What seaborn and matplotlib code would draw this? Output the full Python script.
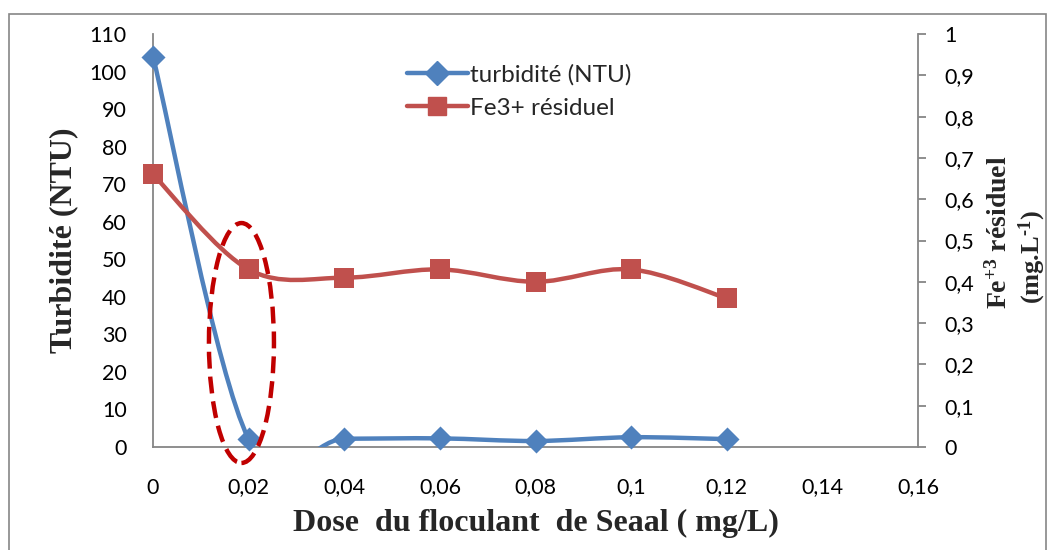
import matplotlib
matplotlib.use("Agg")
import matplotlib.pyplot as plt
import seaborn as sns
import numpy as np
from matplotlib.path import Path
from matplotlib.patches import PathPatch, Ellipse, Rectangle
from matplotlib.lines import Line2D

# ---- data ----
dose = [0, 0.02, 0.04, 0.06, 0.08, 0.10, 0.12]
turbidite = [104, 2.1, 2.2, 2.3, 1.6, 2.6, 2.1]
fe_residuel = [0.66, 0.43, 0.41, 0.43, 0.40, 0.43, 0.36]
x_ticks = [0, 0.02, 0.04, 0.06, 0.08, 0.10, 0.12, 0.14, 0.16]
x_labels = ["0", "0,02", "0,04", "0,06", "0,08", "0,1", "0,12", "0,14", "0,16"]
y_ticks = list(range(0, 111, 10))
y2_ticks = [0, 0.1, 0.2, 0.3, 0.4, 0.5, 0.6, 0.7, 0.8, 0.9, 1.0]
y2_labels = ["0", "0,1", "0,2", "0,3", "0,4", "0,5", "0,6", "0,7", "0,8", "0,9", "1"]
legend_labels = ["turbidité (NTU)", "Fe3+ résiduel"]

BLUE = "#4F81BD"
RED = "#C0504D"
GRAY = "#868686"

sns.set_theme(style="white")
plt.rcParams["font.family"] = ["Lato", "DejaVu Sans"]
plt.rcParams["mathtext.fontset"] = "custom"
plt.rcParams["mathtext.rm"] = "Liberation Serif:bold"
plt.rcParams["mathtext.it"] = "Liberation Serif:bold"
plt.rcParams["mathtext.bf"] = "Liberation Serif:bold"
plt.rcParams["mathtext.default"] = "rm"

fig = plt.figure(figsize=(10.54, 5.5), dpi=100)
ax = fig.add_axes([153 / 1054, 1 - 447 / 550, 765 / 1054, 413 / 550])
ax2 = ax.twinx()


def smooth_path(xs, ys):
    pts = np.column_stack([xs, ys]).astype(float)
    n = len(pts)
    verts = [pts[0]]
    codes = [Path.MOVETO]
    for i in range(n - 1):
        p0 = pts[i - 1] if i > 0 else pts[i]
        p1 = pts[i]
        p2 = pts[i + 1]
        p3 = pts[i + 2] if i + 2 < n else pts[i + 1]
        c1 = p1 + (p2 - p0) / 6.0
        c2 = p2 - (p3 - p1) / 6.0
        verts += [c1, c2, p2]
        codes += [Path.CURVE4] * 3
    return Path(verts, codes)


ax.add_patch(PathPatch(smooth_path(dose, turbidite), facecolor="none",
                       edgecolor=BLUE, lw=3.2, capstyle="round", joinstyle="round", zorder=3))
sns.scatterplot(x=dose, y=turbidite, ax=ax, marker="D", s=150, color=BLUE,
                edgecolor=BLUE, linewidth=0, zorder=4, clip_on=False, legend=False)

ax2.add_patch(PathPatch(smooth_path(dose, fe_residuel), facecolor="none",
                        edgecolor=RED, lw=3.2, capstyle="round", joinstyle="round", zorder=3))
sns.scatterplot(x=dose, y=fe_residuel, ax=ax2, marker="s", s=190, color=RED,
                edgecolor=RED, linewidth=0, zorder=4, clip_on=False, legend=False)

ax.set_xlim(0, 0.16)
ax.set_ylim(0, 110)
ax2.set_ylim(0, 1)

ax.set_xticks(x_ticks)
ax.set_xticklabels(x_labels)
ax.set_yticks(y_ticks)
ax.set_yticklabels([str(v) for v in y_ticks])
ax2.set_yticks(y2_ticks)
ax2.set_yticklabels(y2_labels)

for a in (ax, ax2):
    for s in a.spines.values():
        s.set_visible(False)
    a.grid(False)
    a.set_facecolor("none")
ax.spines["left"].set_visible(True)
ax.spines["bottom"].set_visible(True)
ax2.spines["right"].set_visible(True)
for s in (ax.spines["left"], ax.spines["bottom"], ax2.spines["right"]):
    s.set_color(GRAY)
    s.set_linewidth(1.3)

ax.tick_params(axis="y", length=0, labelsize=15.5, colors="black", pad=19)
ax.tick_params(axis="x", length=0, labelsize=15.5, colors="black", pad=22)
ax2.tick_params(axis="y", length=6, width=1.3, color=GRAY, labelsize=15.5,
                labelcolor="black", pad=13, direction="out")

ax.set_xlabel("Dose  du floculant  de Seaal ( mg/L)", family="Liberation Serif",
              fontweight="bold", fontsize=23, labelpad=8)
ax.set_ylabel("Turbidité (NTU)", family="Liberation Serif", fontweight="bold",
              fontsize=23, labelpad=8)
fig.text(999 / 1054, 1 - 232 / 550, "Fe$^{+3}$ résiduel",
         family="Liberation Serif", fontweight="bold", fontsize=20, rotation=90,
         ha="center", va="center")
fig.text(1032 / 1054, 1 - 257 / 550, "(mg.L$^{\\text{-1}}$)",
         family="Liberation Serif", fontweight="bold", fontsize=19, rotation=90,
         ha="center", va="center")

# dashed ellipse highlighting 0.02
ell = Ellipse((0.0185, 27.7), width=0.0136, height=63.9, fill=False,
              edgecolor="#C00000", lw=3.2, linestyle=(0, (3.8, 1.8)),
              transform=ax.transData, zorder=6, clip_on=False)
ax2.add_patch(ell)

handles = [
    Line2D([0], [0], color=BLUE, lw=3.2, marker="D", markersize=12, solid_capstyle="round"),
    Line2D([0], [0], color=RED, lw=3.2, marker="s", markersize=13, solid_capstyle="round"),
]
ax2.legend(handles, legend_labels, loc="upper left",
           bbox_to_anchor=((407 - 153) / 765, (447 - 64) / 413), frameon=False,
           fontsize=17.5, handlelength=2.5, handletextpad=0.1, labelspacing=0.5,
           borderaxespad=0, borderpad=0)

# outer chart border
fig.patches.append(Rectangle((9 / 1054, -0.05), 1037 / 1054, 1.05 - 14 / 550,
                             transform=fig.transFigure, fill=False,
                             edgecolor=GRAY, lw=1.2))

fig.savefig("out.png", dpi=100)
